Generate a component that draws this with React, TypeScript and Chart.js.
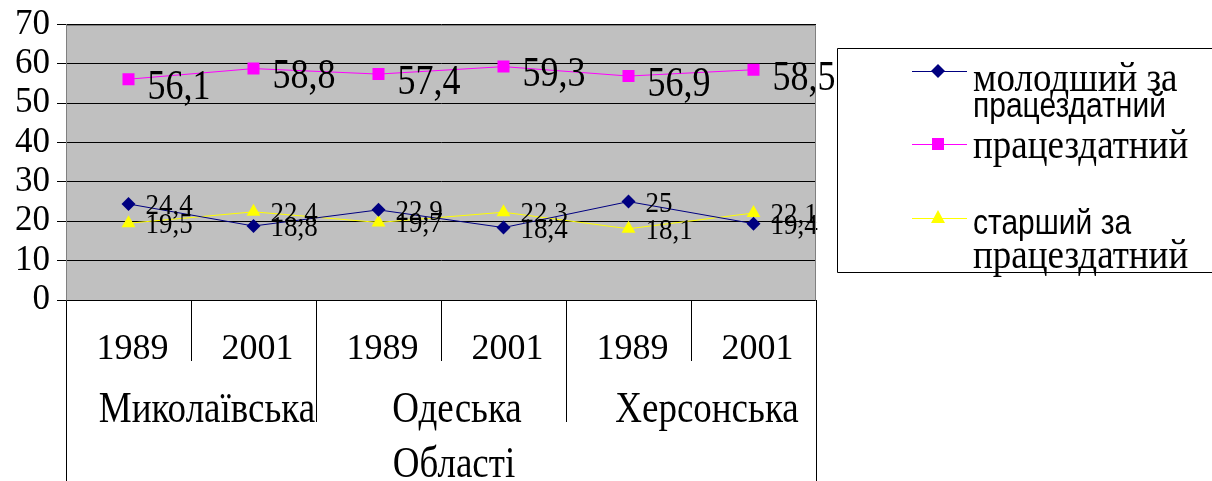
import React, { useEffect, useRef } from "react";
import { Chart, registerables } from "chart.js";

Chart.register(...registerables);

const categories = ["1989", "2001", "1989", "2001", "1989", "2001"];
const regions = ["Миколаївська", "Одеська", "Херсонська"];
const axisTitle = "Області";
const youngValues = [24.4, 18.8, 22.9, 18.4, 25, 19.4];
const workingValues = [56.1, 58.8, 57.4, 59.3, 56.9, 58.5];
const olderValues = [19.5, 22.4, 19.7, 22.3, 18.1, 22.1];
const seriesColors = ["#000080", "#FF00FF", "#FFFF00"];
const legendLines = [
  [
    { text: "молодший за", serif: true },
    { text: "працездатний", serif: false },
  ],
  [{ text: "працездатний", serif: true }],
  [
    { text: "старший за", serif: false },
    { text: "працездатний", serif: true },
  ],
];
const yMin = 0;
const yMax = 70;
const yStep = 10;

const SERIF = "'Liberation Serif', 'Times New Roman', serif";
const SANS = "'Liberation Sans', Arial, sans-serif";

function fmt(v: number) {
  return String(v).replace(".", ",");
}

function stretchedText(ctx: CanvasRenderingContext2D, text: string, x: number, y: number, sy: number) {
  ctx.save();
  ctx.translate(x, y);
  ctx.scale(1, sy);
  ctx.fillText(text, 0, 0);
  ctx.restore();
}

function drawMarker(ctx: CanvasRenderingContext2D, kind: number, x: number, y: number, color: string) {
  ctx.save();
  ctx.fillStyle = color;
  ctx.beginPath();
  if (kind === 0) {
    const r = 7;
    ctx.moveTo(x, y - r);
    ctx.lineTo(x + r, y);
    ctx.lineTo(x, y + r);
    ctx.lineTo(x - r, y);
  } else if (kind === 1) {
    ctx.rect(x - 6, y - 6, 12, 12);
  } else {
    ctx.moveTo(x, y - 8);
    ctx.lineTo(x + 7, y + 5);
    ctx.lineTo(x - 7, y + 5);
  }
  ctx.closePath();
  ctx.fill();
  ctx.restore();
}

const customPlugin = {
  id: "customDecor",
  beforeDraw(chart: any) {
    const { ctx, chartArea } = chart;
    ctx.save();
    ctx.fillStyle = "#C0C0C0";
    ctx.fillRect(chartArea.left, chartArea.top, chartArea.right - chartArea.left, chartArea.bottom - chartArea.top);
    ctx.restore();
  },
  afterDatasetsDraw(chart: any) {
    const { ctx } = chart;
    ctx.save();
    ctx.fillStyle = "#000";
    ctx.textAlign = "left";
    ctx.textBaseline = "middle";
    chart.data.datasets.forEach((ds: any, di: number) => {
      const meta = chart.getDatasetMeta(di);
      meta.data.forEach((pt: any, i: number) => {
        const v = ds.data[i];
        if (di === 1) {
          ctx.font = `36px ${SERIF}`;
          stretchedText(ctx, fmt(v), pt.x + 19, pt.y + 9, 1.15);
        } else {
          ctx.font = `27px ${SERIF}`;
          stretchedText(ctx, fmt(v), pt.x + 17, pt.y + 2, 1.12);
        }
      });
    });
    ctx.restore();
  },
  afterDraw(chart: any) {
    const { ctx, chartArea } = chart;
    const xs = chart.scales.x;
    const n = categories.length;
    const l = Math.round(chartArea.left) + 0.5;
    const r = Math.round(chartArea.right) - 0.5;
    const t = Math.round(chartArea.top) + 0.5;
    const b = Math.round(chartArea.bottom) + 0.5;
    ctx.save();
    ctx.strokeStyle = "#808080";
    ctx.lineWidth = 1;
    ctx.beginPath();
    ctx.moveTo(l, t);
    ctx.lineTo(r, t);
    ctx.lineTo(r, b);
    ctx.stroke();

    ctx.strokeStyle = "#000";
    const H = chart.height;
    const bounds: number[] = [];
    for (let i = 0; i <= n; i++) {
      let px;
      if (i === 0) px = chartArea.left;
      else if (i === n) px = chartArea.right;
      else px = (xs.getPixelForValue(i - 1) + xs.getPixelForValue(i)) / 2;
      bounds.push(px);
      let end;
      if (i === 0 || i === n) end = H;
      else if (i % 2 === 0) end = 422;
      else end = 361;
      const x = Math.round(px) + 0.5;
      ctx.beginPath();
      ctx.moveTo(x, b);
      ctx.lineTo(x, end);
      ctx.stroke();
    }

    ctx.fillStyle = "#000";
    ctx.textAlign = "center";
    ctx.textBaseline = "middle";
    ctx.font = `37px ${SERIF}`;
    regions.forEach((name, g) => {
      const cx = (bounds[g * 2] + bounds[g * 2 + 2]) / 2 + 16;
      stretchedText(ctx, name, cx, 410, 1.2);
    });
    stretchedText(ctx, axisTitle, (chartArea.left + chartArea.right) / 2 + 13, 465, 1.2);

    const boxL = 837.5, boxT = 48.5, boxB = 272.5;
    ctx.strokeStyle = "#000";
    ctx.beginPath();
    ctx.moveTo(chart.width + 2, boxT);
    ctx.lineTo(boxL, boxT);
    ctx.lineTo(boxL, boxB);
    ctx.lineTo(chart.width + 2, boxB);
    ctx.stroke();

    const rowY = [71, 144, 218];
    const baselines = [[91, 117], [158], [234, 268]];
    ctx.textAlign = "left";
    ctx.textBaseline = "alphabetic";
    legendLines.forEach((lines, k) => {
      const y = rowY[k] + 0.5;
      ctx.strokeStyle = seriesColors[k];
      ctx.lineWidth = 1;
      ctx.beginPath();
      ctx.moveTo(912, y);
      ctx.lineTo(967, y);
      ctx.stroke();
      drawMarker(ctx, k, 938, rowY[k], seriesColors[k]);
      ctx.fillStyle = "#000";
      lines.forEach((ln, j) => {
        ctx.font = ln.serif ? `37px ${SERIF}` : `30px ${SANS}`;
        stretchedText(ctx, ln.text, 973, baselines[k][j], 1.15);
      });
    });
    ctx.restore();
  },
};

export default function App() {
  const canvasRef = useRef<HTMLCanvasElement | null>(null);

  useEffect(() => {
    const canvas = canvasRef.current;
    if (!canvas) return;
    const chart = new Chart(canvas, {
      type: "line",
      data: {
        labels: categories,
        datasets: [
          {
            label: "молодший за працездатний",
            data: youngValues,
            borderColor: seriesColors[0],
            backgroundColor: seriesColors[0],
            pointBackgroundColor: seriesColors[0],
            pointBorderColor: seriesColors[0],
            borderWidth: 1,
            pointStyle: "rectRot",
            pointRadius: 7,
            pointBorderWidth: 0,
            tension: 0,
          },
          {
            label: "працездатний",
            data: workingValues,
            borderColor: seriesColors[1],
            backgroundColor: seriesColors[1],
            pointBackgroundColor: seriesColors[1],
            pointBorderColor: seriesColors[1],
            borderWidth: 1,
            pointStyle: "rect",
            pointRadius: 8.5,
            pointBorderWidth: 0,
            tension: 0,
          },
          {
            label: "старший за працездатний",
            data: olderValues,
            borderColor: seriesColors[2],
            backgroundColor: seriesColors[2],
            pointBackgroundColor: seriesColors[2],
            pointBorderColor: seriesColors[2],
            borderWidth: 1,
            pointStyle: "triangle",
            pointRadius: 8,
            pointBorderWidth: 0,
            tension: 0,
          },
        ],
      },
      options: {
        responsive: false,
        animation: false,
        devicePixelRatio: 1,
        layout: { padding: { left: 0, top: 16, right: 396, bottom: 0 } },
        plugins: {
          legend: { display: false },
          tooltip: { enabled: false },
        },
        scales: {
          x: {
            type: "category",
            offset: true,
            grid: { display: false, drawTicks: false },
            border: { display: true, color: "#000", width: 1 },
            ticks: {
              color: "#000",
              font: { family: SERIF, size: 36 },
              padding: 28,
              labelOffset: 4,
              maxRotation: 0,
              autoSkip: false,
            },
            afterFit(scale: any) {
              scale.height = 181;
            },
          },
          y: {
            min: yMin,
            max: yMax,
            grid: { color: "#000", lineWidth: 1, tickLength: 9, tickColor: "#000" },
            border: { display: true, color: "#808080", width: 1 },
            ticks: {
              stepSize: yStep,
              autoSkip: false,
              color: "#000",
              font: { family: SERIF, size: 35, lineHeight: 1 },
              padding: 7,
            },
            afterFit(scale: any) {
              scale.width = 66;
            },
          },
        },
      },
      plugins: [customPlugin],
    });
    return () => chart.destroy();
  }, []);

  return (
    <div style={{ position: "absolute", left: 0, top: 0, width: 1212, height: 481, background: "#fff" }}>
      <canvas ref={canvasRef} width={1212} height={481} style={{ display: "block" }} />
    </div>
  );
}
